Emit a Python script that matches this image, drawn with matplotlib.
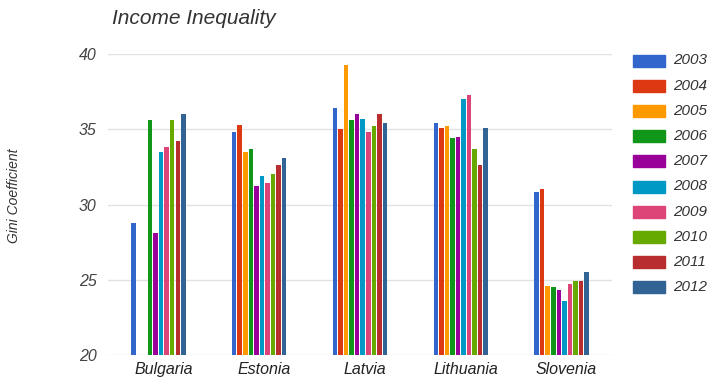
import matplotlib
matplotlib.use("Agg")
import matplotlib.pyplot as plt
import matplotlib.transforms as mtransforms
import numpy as np

countries = ["Bulgaria", "Estonia", "Latvia", "Lithuania", "Slovenia"]
years = ["2003", "2004", "2005", "2006", "2007", "2008", "2009", "2010", "2011", "2012"]
colors = ["#3366cc", "#dc3912", "#ff9900", "#109618", "#990099",
          "#0099c6", "#dd4477", "#66aa00", "#b82e2e", "#316395"]

# Gini coefficient per year, one value per country (None = no data)
gini_2003 = [28.8, 34.8, 36.4, 35.4, 30.8]
gini_2004 = [None, 35.3, 35.0, 35.1, 31.0]
gini_2005 = [None, 33.5, 39.3, 35.2, 24.6]
gini_2006 = [35.6, 33.7, 35.6, 34.4, 24.5]
gini_2007 = [28.1, 31.2, 36.0, 34.5, 24.3]
gini_2008 = [33.5, 31.9, 35.7, 37.0, 23.6]
gini_2009 = [33.8, 31.4, 34.8, 37.3, 24.7]
gini_2010 = [35.6, 32.0, 35.2, 33.7, 24.9]
gini_2011 = [34.2, 32.6, 36.0, 32.6, 24.9]
gini_2012 = [36.0, 33.1, 35.4, 35.1, 25.5]
series = [gini_2003, gini_2004, gini_2005, gini_2006, gini_2007,
          gini_2008, gini_2009, gini_2010, gini_2011, gini_2012]

yticks = [20, 25, 30, 35, 40]

plt.rcParams["font.family"] = ["Liberation Sans", "DejaVu Sans"]

fig = plt.figure(figsize=(7.16, 3.86), dpi=100)
ax = fig.add_axes([0.1508, 0.0803, 0.7039, 0.7797])

x = np.arange(len(countries))
pitch = 0.055
width = 0.045
base = 20
for i, (vals, col, yr) in enumerate(zip(series, colors, years)):
    offs = (i - (len(series) - 1) / 2) * pitch
    xs = [xx + offs for xx, v in zip(x, vals) if v is not None]
    hs = [v - base for v in vals if v is not None]
    ax.bar(xs, hs, width=width, bottom=base, color=col, label=yr, zorder=3)

ax.set_xlim(-0.5, len(countries) - 0.5)
ax.set_ylim(20, 40)
ax.set_yticks(yticks)
ax.set_yticklabels([str(t) for t in yticks], fontstyle="italic", fontsize=11.5, color="#444444")
ax.set_xticks(x)
ax.set_xticklabels(countries, fontstyle="italic", fontsize=11.5, color="#222222")
ax.tick_params(axis="both", length=0)
ax.tick_params(axis="y", pad=8)
ax.tick_params(axis="x", pad=5)
shift = mtransforms.ScaledTranslation(5 / 100, 0, fig.dpi_scale_trans)
for lbl in ax.get_xticklabels():
    lbl.set_transform(lbl.get_transform() + shift)
ax.grid(axis="y", color="#e2e2e2", linewidth=1, zorder=0)
for s in ax.spines.values():
    s.set_visible(False)

fig.text(112 / 716, 1 - 18 / 386, "Income Inequality", fontstyle="italic",
         fontsize=15, color="#333333", ha="left", va="center")
fig.text(14 / 716, 1 - 196 / 386, "Gini Coefficient", fontstyle="italic",
         fontsize=10, color="#333333", rotation=90, ha="center", va="center")

# legend drawn as swatches and labels in figure coordinates
for i, (col, yr) in enumerate(zip(colors, years)):
    yc = 60.5 + i * 25.2
    fig.patches.append(plt.Rectangle((633 / 716, 1 - (yc + 6) / 386), 32 / 716, 12 / 386,
                                     transform=fig.transFigure, color=col))
    fig.text(673 / 716, 1 - yc / 386, yr, fontstyle="italic", fontsize=11,
             color="#333333", ha="left", va="center")

fig.savefig("out.png", dpi=100)
